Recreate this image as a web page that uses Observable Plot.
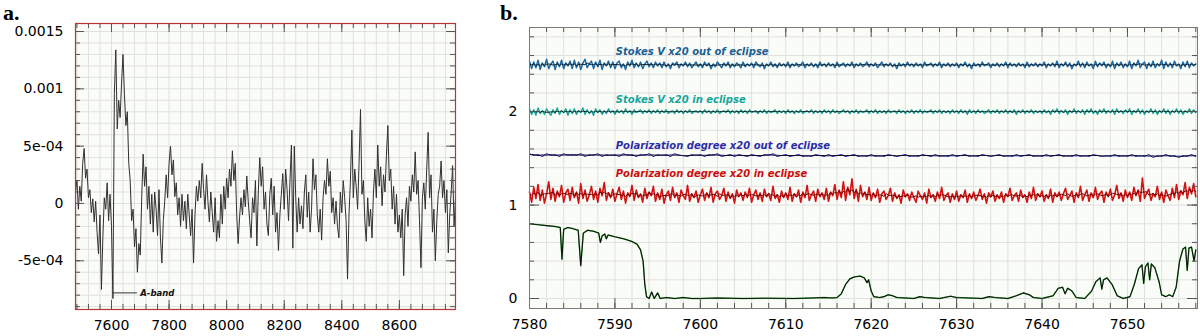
<!DOCTYPE html>
<html><head><meta charset="utf-8">
<script src="https://cdn.jsdelivr.net/npm/d3@7"></script>
<script src="https://cdn.jsdelivr.net/npm/@observablehq/plot@0.6"></script>
<style>
html,body{margin:0;padding:0;background:#fff;}
#wrap{position:relative;width:1200px;height:336px;overflow:hidden;background:#fff;}
.pl{position:absolute;top:0;}
.hd{position:absolute;font-family:"Liberation Serif","DejaVu Serif",serif;font-weight:bold;font-size:22px;line-height:26px;}
</style></head><body>
<div id="wrap">
 <div id="pa" class="pl" style="left:0px"></div>
 <div id="pb" class="pl" style="left:480px"></div>
 <div class="hd" style="left:3px;top:0px">a.</div>
 <div class="hd" style="left:500px;top:0px">b.</div>
</div>
<script>
// ---------- Panel a data (values in units of 1e-4), wavelengths 7475..8795 step 5 ----------
const aValsE4 = [
 1.0, 2.0,-0.5, 1.5, 0.2, 3.5, 4.8, 2.2, 3.0, 0.5, 1.2,-0.8, 0.4,-1.6, 0.2,-2.5,-4.4,-1.0,-7.5,-3.0,
 0.5,-0.5, 1.8,-1.5, 0.8,-2.0,-8.3, 9.6,13.4, 6.5, 9.0, 7.5,10.5,13.0, 9.5, 6.8, 8.0, 3.5, 2.0,-1.5,
-0.5,-3.8,-2.2,-6.0,-3.5,-4.5, 0.5, 4.3, 1.5, 3.2,-0.5, 1.5,-1.8, 0.8,-2.5, 1.0,-0.5,-2.8, 1.2,-3.0,
-5.2,-1.5, 0.2, 2.5, 0.5, 3.5, 5.0, 2.5, 3.8, 0.6, 1.8,-1.0, 0.5,-2.0, 0.8,-1.5, 0.2,-2.2, 0.8,-1.0,
-2.8,-0.5,-5.2,-1.0, 1.5, 0.2, 2.0, 0.5, 3.5, 1.2,-0.5, 2.5, 0.2,-1.6, 1.0,-0.8,-2.5, 0.5,-3.3,-1.5,
-3.0, 0.8,-1.8, 1.5,-0.5, 2.2, 0.5, 3.0, 1.5, 4.6, 2.0, 3.5,-1.0,-3.5,-1.2, 0.5,-1.0, 1.2,-0.3, 2.4,
 0.2,-1.5,-3.0, 0.5,-0.8, 2.0,-3.7, 1.0, 4.0, 1.5, 3.2,-0.5, 1.0,-1.8,-2.8, 0.8, 2.2,-1.0, 1.5,-2.5,
-0.8,-4.1,-1.0, 0.8, 2.6,-0.5, 3.0, 1.2,-1.5, 2.0, 5.1,-3.9, 5.0, 0.5,-2.5, 0.5,-1.8,-0.2,-2.2, 1.0,
 2.5,-1.2, 1.0,-2.5,-0.5, 3.9, 1.2, 2.5,-1.0,-2.5,-0.5,-3.2, 0.5, 2.0, 0.8, 3.9, 1.5, 2.8,-0.8, 0.5,
-1.8, 0.2,-2.0,-3.0, 1.0,-0.8, 2.0, 0.5,-1.5,-6.6,-1.0, 2.0, 6.4, 0.5, 3.0, 1.5,-0.5, 3.5, 8.2, 0.8,
 2.0,-1.5,-3.3, 0.5,-2.0,-0.5,-3.0, 1.0, 3.0, 0.5, 5.1, 1.5, 3.2,-0.2, 2.5, 1.0, 4.2, 6.8, 2.0, 3.0,
-0.5, 1.5,-1.8, 0.8,-2.5,-1.0,-3.0,-0.5,-6.3,-1.0, 0.5,-2.0, 1.5, 0.2, 2.5, 1.0, 4.5, 0.8, 2.0,-1.5,
-5.6, 0.5, 1.8,-0.5, 3.0, 6.2, 0.5, 2.5,-2.5,-0.5,-5.0,-1.5, 0.8, 1.5, 3.7, 0.5, 2.0,-0.8, 1.2,-4.3,
-1.0, 1.0, 3.3,-2.0, 0.5
];
const aX = d3.range(7475, 8796, 5);
const aXTicks = [7600, 7800, 8000, 8200, 8400, 8600];
const aYTicks = [-5e-4, 0, 5e-4, 0.001, 0.0015];
const aYLabels = ["-5e-04", "0", "5e-04", "0.001", "0.0015"];
const aBand = [{x1: 7605, x2: 7690, y: -7.8e-4, tx: 7700, label: "A-band"}];

// ---------- Panel b data ----------
// fine grid 7580..7658 step 0.25
const svOut = [
 2.54,2.46,2.53,2.47,2.55,2.45,2.52,2.48,2.56,2.46,2.51,2.54,2.45,2.53,2.48,2.55,2.46,2.52,2.49,2.54,
 2.46,2.55,2.47,2.53,2.45,2.52,2.56,2.47,2.51,2.54,2.46,2.53,2.48,2.55,2.45,2.52,2.49,2.54,2.47,2.53,
 2.46,2.52,2.54,2.47,2.51,2.45,2.53,2.49,2.55,2.47,2.52,2.48,2.53,2.46,2.51,2.54,2.48,2.52,2.47,2.53,
 2.49,2.52,2.47,2.53,2.48,2.51,2.46,2.52,2.50,2.53,2.47,2.51,2.49,2.53,2.48,2.52,2.47,2.50,2.53,2.48,
 2.51,2.47,2.53,2.49,2.52,2.46,2.51,2.48,2.53,2.50,2.47,2.52,2.49,2.53,2.47,2.51,2.48,2.52,2.50,2.47,
 2.53,2.48,2.51,2.49,2.52,2.47,2.53,2.50,2.48,2.52,2.46,2.51,2.49,2.53,2.48,2.51,2.47,2.52,2.49,2.51,
 2.48,2.53,2.47,2.51,2.49,2.52,2.48,2.50,2.53,2.47,2.51,2.49,2.52,2.48,2.51,2.47,2.53,2.49,2.51,2.48,
 2.52,2.49,2.51,2.47,2.53,2.48,2.50,2.52,2.48,2.51,2.49,2.53,2.47,2.51,2.49,2.52,2.48,2.50,2.53,2.48,
 2.51,2.49,2.52,2.47,2.50,2.53,2.48,2.51,2.49,2.52,2.48,2.51,2.46,2.52,2.49,2.51,2.48,2.53,2.49,2.51,
 2.48,2.52,2.49,2.51,2.47,2.53,2.49,2.50,2.52,2.48,2.51,2.49,2.53,2.47,2.51,2.49,2.52,2.48,2.51,2.49,
 2.52,2.47,2.51,2.49,2.53,2.48,2.51,2.46,2.52,2.49,2.51,2.48,2.53,2.49,2.50,2.52,2.47,2.51,2.49,2.52,
 2.48,2.51,2.49,2.53,2.47,2.52,2.49,2.51,2.48,2.52,2.49,2.51,2.47,2.53,2.48,2.51,2.49,2.52,2.48,2.51,
 2.49,2.53,2.47,2.51,2.49,2.52,2.48,2.54,2.47,2.51,2.49,2.53,2.48,2.52,2.46,2.51,2.49,2.54,2.48,2.52,
 2.47,2.53,2.49,2.51,2.46,2.54,2.48,2.52,2.49,2.53,2.47,2.51,2.48,2.54,2.46,2.52,2.49,2.53,2.47,2.51,
 2.48,2.54,2.46,2.52,2.49,2.55,2.47,2.51,2.53,2.46,2.52,2.48,2.54,2.47,2.51,2.49,2.55,2.46,2.53,2.48,
 2.52,2.47,2.54,2.49,2.51,2.46,2.53,2.48,2.54,2.47,2.52,2.49,2.51
];
const svIn = [
 2.03,1.97,2.02,1.96,2.04,1.98,2.01,1.97,2.03,1.99,1.96,2.02,1.98,2.04,1.97,2.01,1.99,2.03,1.96,2.02,
 1.98,2.03,1.97,2.01,1.99,2.04,1.97,2.02,1.98,2.01,1.96,2.03,1.99,2.02,1.97,2.01,1.98,2.03,1.99,2.01,
 1.97,2.02,1.99,2.01,1.98,2.03,1.99,2.01,1.97,2.02,1.99,2.00,2.02,1.98,2.01,1.99,2.02,1.98,2.01,1.99,
 2.02,1.98,2.01,1.99,2.02,1.98,2.00,2.01,1.98,2.02,1.99,2.01,1.98,2.01,1.99,2.02,1.98,2.00,2.01,1.99,
 2.01,1.98,2.02,1.99,2.01,1.98,2.01,1.99,2.02,1.98,2.00,2.01,1.99,2.02,1.98,2.01,1.99,2.01,1.98,2.02,
 1.99,2.01,1.98,2.02,1.99,2.00,2.01,1.98,2.01,1.99,2.02,1.98,2.01,1.99,2.00,2.02,1.98,2.01,1.99,2.01,
 1.98,2.02,1.99,2.01,1.98,2.01,1.99,2.02,1.98,2.00,2.01,1.99,2.02,1.98,2.01,1.99,2.01,1.98,2.02,1.99,
 2.01,1.98,2.02,1.99,2.01,1.98,2.00,2.02,1.99,2.01,1.98,2.01,1.99,2.02,1.98,2.01,1.99,2.00,2.02,1.98,
 2.01,1.99,2.02,1.98,2.01,1.99,2.01,1.98,2.02,1.99,2.00,2.01,1.98,2.02,1.99,2.01,1.98,2.01,1.99,2.02,
 1.98,2.01,1.99,2.02,1.98,2.01,1.99,2.00,2.02,1.98,2.01,1.99,2.02,1.98,2.01,1.99,2.01,1.98,2.02,1.99,
 2.01,1.98,2.02,1.99,2.01,1.97,2.02,1.99,2.01,1.98,2.02,1.99,2.01,1.98,2.00,2.02,1.98,2.01,1.99,2.02,
 1.98,2.01,1.99,2.02,1.98,2.01,1.99,2.02,1.97,2.01,1.99,2.02,1.98,2.01,1.99,2.02,1.98,2.01,1.99,2.01,
 1.98,2.02,1.99,2.01,1.97,2.02,1.99,2.03,1.98,2.01,1.99,2.02,1.97,2.01,1.99,2.03,1.98,2.01,1.99,2.02,
 1.97,2.02,1.99,2.03,1.98,2.01,1.97,2.02,1.99,2.03,1.98,2.01,1.99,2.02,1.97,2.03,1.99,2.01,1.98,2.02,
 1.99,2.03,1.97,2.01,1.99,2.03,1.98,2.02,1.97,2.01,1.99,2.03,1.98,2.02,1.97,2.01,1.99,2.03,1.98,2.02,
 1.97,2.01,1.99,2.03,1.98,2.02,1.97,2.01,1.99,2.03,1.98,2.02,1.99
];
const polIn = [
 1.14,1.03,1.19,1.07,1.22,1.05,1.16,1.02,1.12,1.25,1.06,1.18,1.04,1.15,1.09,1.21,1.03,1.13,1.17,1.05,
 1.19,1.08,1.14,1.02,1.23,1.07,1.16,1.04,1.11,1.20,1.06,1.15,1.03,1.18,1.10,1.24,1.05,1.13,1.08,1.17,
 1.04,1.12,1.19,1.06,1.15,1.02,1.13,1.09,1.21,1.05,1.16,1.08,1.12,1.03,1.18,1.07,1.14,1.10,1.20,1.04,
 1.13,1.06,1.17,1.02,1.11,1.15,1.05,1.19,1.08,1.13,1.03,1.16,1.10,1.06,1.21,1.04,1.12,1.08,1.15,1.03,
 1.11,1.17,1.05,1.13,1.08,1.19,1.03,1.12,1.15,1.06,1.10,1.18,1.04,1.14,1.07,1.12,1.02,1.16,1.09,1.13,
 1.05,1.14,1.08,1.18,1.03,1.11,1.16,1.06,1.13,1.04,1.17,1.09,1.12,1.05,1.20,1.07,1.11,1.03,1.15,1.08,
 1.13,1.06,1.19,1.04,1.12,1.09,1.16,1.03,1.14,1.08,1.21,1.05,1.11,1.15,1.04,1.17,1.09,1.13,1.06,1.18,
 1.04,1.14,1.10,1.22,1.06,1.16,1.08,1.25,1.05,1.19,1.11,1.28,1.07,1.17,1.04,1.21,1.09,1.14,1.06,1.19,
 1.05,1.13,1.08,1.17,1.03,1.12,1.15,1.06,1.10,1.18,1.04,1.13,1.07,1.11,1.02,1.16,1.09,1.12,1.05,1.14,
 1.08,1.03,1.15,1.10,1.06,1.13,1.02,1.17,1.08,1.11,1.04,1.14,1.07,1.19,1.05,1.10,1.13,1.03,1.12,1.06,
 1.15,1.04,1.11,1.08,1.16,1.03,1.12,1.07,1.14,1.05,1.10,1.17,1.06,1.12,1.02,1.13,1.09,1.15,1.04,1.11,
 1.07,1.14,1.03,1.12,1.09,1.18,1.05,1.10,1.13,1.04,1.16,1.08,1.11,1.03,1.14,1.07,1.19,1.05,1.12,1.09,
 1.15,1.04,1.11,1.07,1.17,1.03,1.13,1.09,1.14,1.05,1.12,1.18,1.06,1.10,1.15,1.03,1.13,1.08,1.20,1.05,
 1.11,1.16,1.04,1.13,1.08,1.19,1.06,1.12,1.15,1.03,1.14,1.09,1.17,1.05,1.11,1.21,1.07,1.13,1.04,1.16,
 1.08,1.14,1.05,1.19,1.10,1.16,1.04,1.29,1.07,1.13,1.17,1.05,1.12,1.09,1.20,1.06,1.14,1.03,1.16,1.10,
 1.05,1.18,1.08,1.22,1.06,1.15,1.11,1.24,1.07,1.19,1.12,1.23,1.09
];
// coarse grid 7580..7658 step 0.5
const polOut = [
 1.55,1.53,1.54,1.52,1.55,1.53,1.54,1.52,1.55,1.53,1.54,1.53,1.55,1.52,1.54,1.53,1.55,1.52,1.54,1.53,
 1.54,1.52,1.55,1.53,1.54,1.52,1.54,1.53,1.55,1.52,1.54,1.53,1.54,1.52,1.55,1.53,1.53,1.52,1.54,1.53,
 1.54,1.52,1.54,1.53,1.55,1.52,1.53,1.54,1.52,1.54,1.53,1.52,1.54,1.53,1.52,1.54,1.53,1.55,1.52,1.53,
 1.54,1.52,1.53,1.54,1.52,1.53,1.52,1.54,1.53,1.52,1.54,1.52,1.53,1.54,1.52,1.53,1.54,1.52,1.53,1.52,
 1.54,1.52,1.53,1.52,1.54,1.53,1.52,1.53,1.54,1.52,1.53,1.52,1.54,1.53,1.52,1.54,1.52,1.53,1.52,1.54,
 1.52,1.53,1.54,1.52,1.53,1.52,1.54,1.53,1.52,1.53,1.54,1.52,1.53,1.52,1.54,1.52,1.53,1.54,1.52,1.53,
 1.52,1.54,1.52,1.53,1.54,1.52,1.53,1.52,1.54,1.52,1.53,1.52,1.54,1.53,1.52,1.53,1.52,1.54,1.52,1.53,
 1.52,1.54,1.52,1.53,1.52,1.54,1.51,1.53,1.52,1.54,1.52,1.53,1.51,1.53,1.52,1.54,1.52
];
const bXfine = d3.range(7580, 7658.01, 0.25);
const bXcoarse = d3.range(7580, 7658.01, 0.5);

// intensity spectrum (A-band)
const specX = [7580,7581,7582,7583,7583.6,7583.8,7584.0,7584.5,7585,7585.7,7586.0,7586.3,7586.8,7587.5,7588.1,7588.3,7588.5,7588.8,7589.0,7589.2,
 7590,7591,7592,7592.6,7593.0,7593.3,7593.5,7593.7,7594.0,7594.3,7594.6,7595.0,7595.3,7596,7597,7598,7599,7600,7602,7605,
 7608,7611,7613,7614.5,7615.5,7616,7616.5,7617,7617.5,7618,7618.7,7619.2,7619.5,7619.7,7620,7620.3,7621,7621.5,7622,7622.5,
 7623,7625,7625.7,7626.3,7628,7629.3,7630,7633,7633.8,7634.5,7636,7637,7637.8,7638.5,7639,7640,7641.3,7641.9,7642.4,7642.7,
 7643.0,7643.5,7644,7645,7645.8,7646.3,7646.8,7647.0,7647.2,7647.6,7648.2,7648.8,7649.5,7650.3,7650.8,7651.3,7651.7,7651.9,7652.1,7652.4,
 7652.6,7652.8,7653.2,7653.7,7654.0,7654.5,7654.9,7655.3,7655.7,7656.1,7656.5,7656.8,7657.0,7657.2,7657.5,7657.8,7658.0];
const specY = [0.80,0.79,0.78,0.77,0.76,0.42,0.74,0.76,0.75,0.73,0.35,0.70,0.73,0.72,0.70,0.60,0.67,0.69,0.64,0.68,
 0.66,0.64,0.61,0.58,0.52,0.40,0.15,0.02,0.00,0.07,0.00,0.06,0.00,0.01,0.00,0.01,0.00,0.00,0.005,0.00,
 0.003,0.00,0.005,0.01,0.005,0.01,0.05,0.15,0.21,0.23,0.24,0.22,0.17,0.20,0.08,0.02,0.01,0.02,0.04,0.03,
 0.01,0.00,0.02,0.01,0.00,0.025,0.01,0.00,0.02,0.01,0.00,0.03,0.06,0.04,0.01,0.00,0.03,0.11,0.12,0.05,
 0.11,0.08,0.01,0.00,0.08,0.18,0.22,0.10,0.20,0.22,0.15,0.03,0.00,0.02,0.15,0.32,0.36,0.16,0.34,0.38,
 0.20,0.37,0.33,0.18,0.04,0.02,0.04,0.02,0.12,0.40,0.53,0.55,0.30,0.54,0.55,0.40,0.52];

const bXTicks = [7580, 7590, 7600, 7610, 7620, 7630, 7640, 7650];
const bYTicks = [0, 1, 2];
const bLabels = ["Stokes V x20 out of eclipse", "Stokes V x20 in eclipse", "Polarization degree x20 out of eclipse", "Polarization degree x20 in eclipse"];
const bLabelY = [2.635, 2.13, 1.635, 1.33];
const bLabelX = 7590.1;
const bColors = ["#1b5f92", "#17a59b", "#2c2ca8", "#cc0d0d"];

// ---------- Panel a ----------
{
  const W = 470, H = 336, mL = 75, mR = 15, mT = 23, mB = 27;
  const pw = W - mL - mR, ph = H - mT - mB;
  const xMinor = d3.range(7480, 8795, 40);
  const yMinor = d3.range(-9, 16, 1).map(d => d * 1e-4);
  const tickMarks = (vals, len, stroke) => [
    Plot.tickX(vals, {x: d => d, insetTop: ph - len, stroke}),
    Plot.tickX(vals, {x: d => d, insetBottom: ph - len, stroke})
  ];
  const tickMarksY = (vals, len, stroke) => [
    Plot.tickY(vals, {y: d => d, insetRight: pw - len, stroke}),
    Plot.tickY(vals, {y: d => d, insetLeft: pw - len, stroke})
  ];
  const aData = aValsE4.map((v, i) => ({x: aX[i], y: v * 1e-4}));
  const p = Plot.plot({
    width: W, height: H, marginLeft: mL, marginRight: mR, marginTop: mT, marginBottom: mB,
    x: {domain: [7475, 8795]},
    y: {domain: [-9.25e-4, 1.57e-3]},
    style: {fontFamily: "DejaVu Sans", fontSize: "14px", background: "transparent", color: "#000", overflow: "visible"},
    marks: [
      Plot.frame({fill: "#fafcf8", stroke: null}),
      Plot.gridX({ticks: xMinor, stroke: "#e0e0e0", strokeOpacity: 1}),
      Plot.gridY({ticks: yMinor, stroke: "#e0e0e0", strokeOpacity: 1}),
      Plot.line(aData, {x: "x", y: "y", stroke: "#303030", strokeWidth: 1}),
      Plot.ruleY(aBand, {y: "y", x1: "x1", x2: "x2", stroke: "#333", strokeWidth: 1}),
      Plot.text(aBand, {x: "tx", y: "y", text: "label", textAnchor: "start", fontWeight: "bold", fontStyle: "italic", fontSize: 8.5, fill: "#111"}),
      ...tickMarks(xMinor, 5, "#555"),
      ...tickMarks(aXTicks, 9, "#555"),
      ...tickMarksY(yMinor, 5, "#555"),
      ...tickMarksY(aYTicks, 9, "#555"),
      Plot.axisX({ticks: aXTicks, tickSize: 0, tickPadding: 11, tickFormat: d => String(d), label: null}),
      Plot.axisY({ticks: aYTicks, tickSize: 0, tickPadding: 12, tickFormat: d => aYLabels[aYTicks.indexOf(d)], label: null}),
      Plot.frame({stroke: "#b8363a", strokeWidth: 1.2})
    ]
  });
  document.getElementById("pa").appendChild(p);
}

// ---------- Panel b ----------
{
  const W = 720, H = 336, mL = 49, mR = 3, mT = 27, mB = 28;
  const pw = W - mL - mR, ph = H - mT - mB;
  const xMinor = d3.range(7580, 7659, 2);
  const yMinor = d3.range(0, 15, 1).map(d => d / 5);
  const tickMarks = (vals, len, stroke) => [
    Plot.tickX(vals, {x: d => d, insetTop: ph - len, stroke}),
    Plot.tickX(vals, {x: d => d, insetBottom: ph - len, stroke})
  ];
  const tickMarksY = (vals, len, stroke) => [
    Plot.tickY(vals, {y: d => d, insetRight: pw - len, stroke}),
    Plot.tickY(vals, {y: d => d, insetLeft: pw - len, stroke})
  ];
  const noisy = (vals, xs, color, core, w, k) => {
    const data = vals.map((v, i) => ({x: xs[i], y: v}));
    return [
      Plot.line(data, {x: "x", y: "y", stroke: color, strokeWidth: w}),
      Plot.line(data, Plot.windowY({k, reduce: "mean"}, {x: "x", y: "y", stroke: core, strokeWidth: 1}))
    ];
  };
  const spec = specX.map((x, i) => ({x, y: specY[i]}));
  const p = Plot.plot({
    width: W, height: H, marginLeft: mL, marginRight: mR, marginTop: mT, marginBottom: mB,
    x: {domain: [7580, 7658.2]},
    y: {domain: [-0.107, 2.9]},
    style: {fontFamily: "DejaVu Sans", fontSize: "14px", background: "transparent", color: "#000", overflow: "visible"},
    marks: [
      Plot.frame({fill: "#fafcf8", stroke: null}),
      Plot.gridX({ticks: xMinor, stroke: "#e0e0e0", strokeOpacity: 1}),
      Plot.gridY({ticks: yMinor, stroke: "#e0e0e0", strokeOpacity: 1}),
      ...noisy(svOut, bXfine, "#1f69a3", "#0d1f2c", 1.5, 5),
      ...noisy(svIn, bXfine, "#19a89d", "#102a28", 1.4, 5),
      ...noisy(polOut, bXcoarse, "#2d2db5", "#111122", 1.1, 3),
      ...noisy(polIn, bXfine, "#d41212", "#6a0000", 1.6, 5),
      Plot.line(spec, {x: "x", y: "y", stroke: "#3cbf3c", strokeWidth: 1.4}),
      Plot.line(spec, {x: "x", y: "y", stroke: "#111", strokeWidth: 1.1}),
      ...bLabels.map((t, i) => Plot.text([t], {x: bLabelX, y: bLabelY[i], text: d => d, textAnchor: "start", fontWeight: "bold", fontStyle: "italic", fontSize: 10, fill: bColors[i]})),
      ...tickMarks(xMinor, 5, "#555"),
      ...tickMarks(bXTicks, 10, "#555"),
      ...tickMarksY(yMinor, 5, "#555"),
      ...tickMarksY(bYTicks, 10, "#555"),
      Plot.axisX({ticks: bXTicks, tickSize: 0, tickPadding: 11, tickFormat: d => String(d), label: null}),
      Plot.axisY({ticks: bYTicks, tickSize: 0, tickPadding: 12, tickFormat: d => String(d), label: null}),
      Plot.frame({stroke: "#7a7a7a", strokeWidth: 1})
    ]
  });
  document.getElementById("pb").appendChild(p);
}
</script>
</body></html>
